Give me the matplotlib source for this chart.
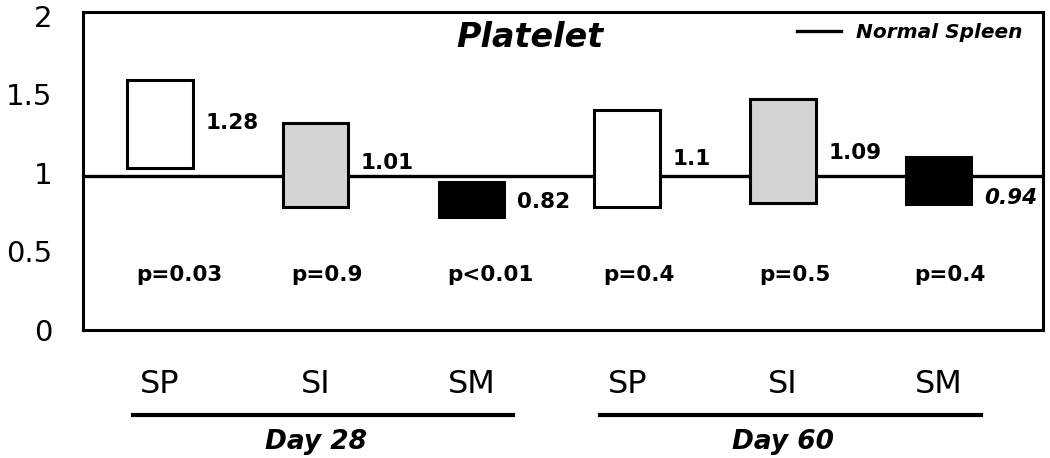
import matplotlib.pyplot as plt
from matplotlib.transforms import blended_transform_factory

# groups / floating bar ranges
groups = ['SP', 'SI', 'SM', 'SP', 'SI', 'SM']
days = ['Day 28', 'Day 60']
low = [1.03, 0.78, 0.72, 0.78, 0.81, 0.80]
high = [1.59, 1.32, 0.94, 1.40, 1.47, 1.10]
value_labels = ['1.28', '1.01', '0.82', '1.1', '1.09', '0.94']
p_labels = ['p=0.03', 'p=0.9', 'p<0.01', 'p=0.4', 'p=0.5', 'p=0.4']
normal_spleen = 0.98

colors = ['white', '#d4d4d4', 'black', 'white', '#d4d4d4', 'black']
label_y = [1.318, 1.064, 0.815, 1.089, 1.127, 0.841]  # vertical spot of each value label
label_style = ['normal'] * 5 + ['italic']

fig = plt.figure(figsize=(10.5, 4.58), dpi=100)
ax = fig.add_axes([0.079, 0.2795, 0.914, 0.6945])

x = list(range(len(groups)))
width = 0.42
heights = [h - l for h, l in zip(high, low)]
ax.bar(x, heights, width, bottom=low, color=colors, edgecolor='black',
       linewidth=2.2, zorder=3)

ax.axhline(normal_spleen, color='black', linewidth=2.4, zorder=2,
           label='Normal Spleen')

for i in x:
    ax.text(i + width / 2 + 0.08, label_y[i], value_labels[i], ha='left',
            va='center', fontsize=15.5, fontweight='bold',
            fontstyle=label_style[i])
    ax.text(i - 0.155, 0.35, p_labels[i], ha='left', va='center',
            fontsize=15.5, fontweight='bold')

ax.text(0.466, 0.92, 'Platelet', transform=ax.transAxes, ha='center',
        va='center', fontsize=24, fontweight='bold', fontstyle='italic')

leg = ax.legend(loc='center right', bbox_to_anchor=(0.979, 0.934),
                frameon=False, borderpad=0, borderaxespad=0,
                handlelength=2.2, handletextpad=0.75,
                prop={'size': 14.5, 'weight': 'bold', 'style': 'italic'})

ax.set_xlim(-0.494, 5.667)
ax.set_ylim(0, 2.025)
ax.set_yticks([0, 0.5, 1, 1.5, 2])
ax.set_yticklabels(['0', '0.5', '1', '1.5', '2'])
ax.set_xticks(x)
ax.set_xticklabels(groups)
ax.tick_params(axis='y', length=0, pad=22, labelsize=21)
ax.tick_params(axis='x', length=0, pad=28, labelsize=23)
for s in ax.spines.values():
    s.set_linewidth(2.2)

# day group underlines and labels below the axis
trans = blended_transform_factory(ax.transData, ax.transAxes)
for k, day in enumerate(days):
    a, b = 3 * k, 3 * k + 2
    ax.plot([a - 0.175, b + 0.27], [-0.267, -0.267], color='black',
            linewidth=3, transform=trans, clip_on=False)
    ax.text((a + b) / 2, -0.352, day, transform=trans, ha='center',
            va='center', fontsize=19, fontweight='bold', fontstyle='italic')

fig.savefig('out.png', dpi=100)
